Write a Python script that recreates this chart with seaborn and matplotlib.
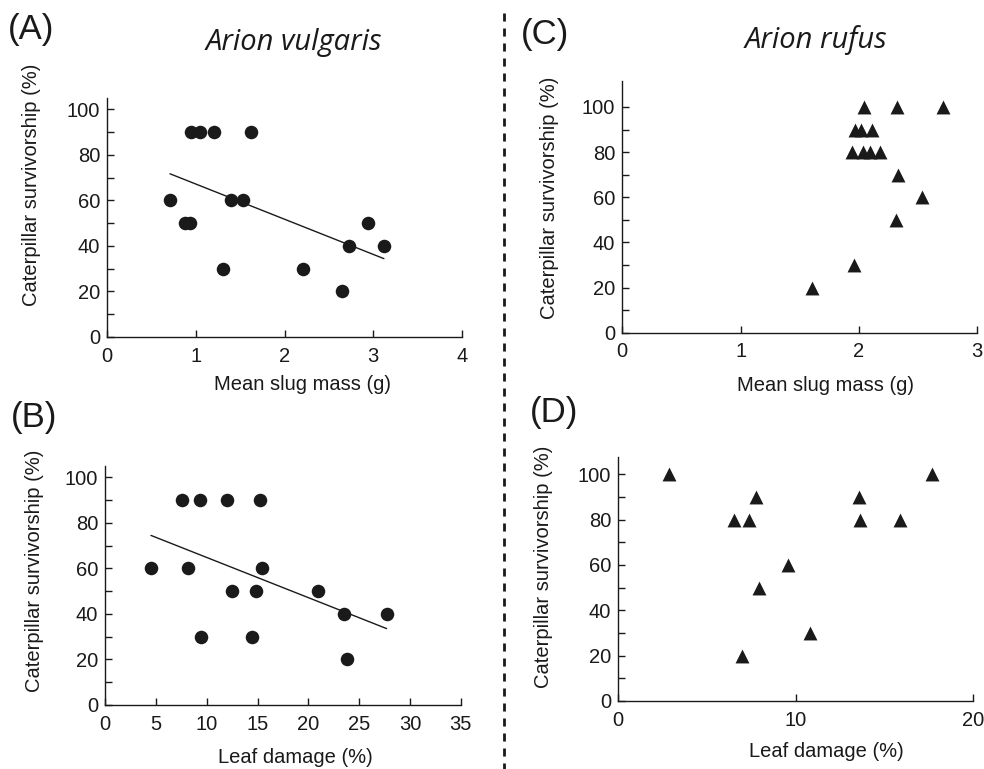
import numpy as np
import pandas as pd
import matplotlib
matplotlib.use("Agg")
import matplotlib.pyplot as plt
from matplotlib.lines import Line2D
import seaborn as sns

# === Data ===
# Arion vulgaris
av_mass = [0.71, 0.88, 0.93, 0.95, 1.05, 1.20, 1.31, 1.40, 1.53, 1.62, 2.21, 2.65, 2.73, 2.94, 3.12]
av_surv_mass = [60, 50, 50, 90, 90, 90, 30, 60, 60, 90, 30, 20, 40, 50, 40]
av_damage = [4.5, 7.6, 8.1, 9.3, 9.4, 11.95, 12.5, 14.45, 14.85, 15.2, 15.4, 20.9, 23.5, 23.8, 27.7]
av_surv_damage = [60, 90, 60, 90, 30, 90, 50, 30, 50, 90, 60, 50, 40, 20, 40]

# Arion rufus
ar_mass = [1.60, 1.96, 1.94, 1.97, 2.02, 2.03, 2.04, 2.09, 2.11, 2.18, 2.31, 2.32, 2.33, 2.53, 2.71]
ar_surv_mass = [20, 30, 80, 90, 90, 80, 100, 80, 90, 80, 50, 100, 70, 60, 100]
ar_damage = [2.86, 6.53, 7.0, 7.39, 7.77, 7.96, 9.6, 10.82, 13.58, 13.64, 15.9, 17.7]
ar_surv_damage = [100, 80, 20, 80, 90, 50, 60, 30, 90, 80, 80, 100]

YLABEL = "Caterpillar survivorship (%)"
MASS_LABEL = "Mean slug mass (g)"
DAMAGE_LABEL = "Leaf damage (%)"

# === Style ===
sns.set_style("ticks")
plt.rcParams['font.family'] = ['Liberation Sans', 'DejaVu Sans']
plt.rcParams['axes.linewidth'] = 1.0
INK = "#1a1a1a"


def style_axes(ax, xlim, xticks, ylim, xlab, ylab, xlab_pos, ylab_pos):
    ax.set_xlim(*xlim)
    ax.set_ylim(*ylim)
    ax.set_xticks(xticks)
    ax.set_yticks(range(0, 101, 20))
    ax.set_yticks(range(10, 100, 20), minor=True)
    ax.tick_params(which='both', direction='in', length=5, width=1.0, color=INK)
    ax.tick_params(axis='x', which='major', pad=7, labelsize=14.5, labelcolor=INK)
    ax.tick_params(axis='y', which='major', pad=5, labelsize=14.5, labelcolor=INK)
    for s in ['left', 'bottom']:
        ax.spines[s].set_color(INK)
    sns.despine(ax=ax)
    ax.set_xlabel(xlab, fontsize=14.5, color=INK)
    ax.set_ylabel(ylab, fontsize=14.5, color=INK)
    ax.xaxis.set_label_coords(*xlab_pos)
    ax.yaxis.set_label_coords(*ylab_pos)
    ax.xaxis.label.set_va('center')
    ax.yaxis.label.set_va('center')


fig = plt.figure(figsize=(9.84, 7.69), dpi=100)
W, H = 984.0, 769.0


def axes_px(left, right, bottom, top):
    return fig.add_axes([left / W, 1 - bottom / H, (right - left) / W, (bottom - top) / H])


# (A) A. vulgaris vs slug mass
axA = axes_px(107, 462, 337, 98)
dfA = pd.DataFrame({"x": av_mass, "y": av_surv_mass})
sns.scatterplot(data=dfA, x="x", y="y", ax=axA, color=INK, s=95, linewidth=0, marker='o', zorder=3)
sns.regplot(data=dfA, x="x", y="y", ax=axA, scatter=False, ci=None, truncate=True,
            line_kws={"color": INK, "lw": 1.0})
style_axes(axA, (0, 4), range(0, 5), (0, 105), MASS_LABEL, YLABEL, (0.552, -0.197), (-0.214, 0.636))

# (B) A. vulgaris vs leaf damage
axB = axes_px(105.3, 460.7, 705, 466)
dfB = pd.DataFrame({"x": av_damage, "y": av_surv_damage})
sns.scatterplot(data=dfB, x="x", y="y", ax=axB, color=INK, s=95, linewidth=0, marker='o', zorder=3)
sns.regplot(data=dfB, x="x", y="y", ax=axB, scatter=False, ci=None, truncate=True,
            line_kws={"color": INK, "lw": 1.0})
style_axes(axB, (0, 35), range(0, 36, 5), (0, 105), DAMAGE_LABEL, YLABEL, (0.534, -0.218), (-0.198, 0.561))

# (C) A. rufus vs slug mass
axC = axes_px(622.3, 977.3, 332.7, 81)
dfC = pd.DataFrame({"x": ar_mass, "y": ar_surv_mass})
sns.scatterplot(data=dfC, x="x", y="y", ax=axC, color=INK, s=100, linewidth=0, marker='^', zorder=3)
style_axes(axC, (0, 3), range(0, 4), (0, 111.5), MASS_LABEL, YLABEL, (0.571, -0.208), (-0.204, 0.535))

# (D) A. rufus vs leaf damage
axD = axes_px(618.3, 972.7, 701, 457.3)
dfD = pd.DataFrame({"x": ar_damage, "y": ar_surv_damage})
sns.scatterplot(data=dfD, x="x", y="y", ax=axD, color=INK, s=100, linewidth=0, marker='^', zorder=3)
style_axes(axD, (0, 20), range(0, 21, 10), (0, 107.5), DAMAGE_LABEL, YLABEL, (0.588, -0.207), (-0.21, 0.552))

for ax in [axA, axB, axC, axD]:
    ax.set_clip_on(False)
    for c in ax.collections:
        c.set_clip_on(False)

# panel letters and species titles
for lab, x, y in [("(A)", 8, 39.5), ("(B)", 11, 426.7), ("(C)", 521, 44), ("(D)", 530, 421.7)]:
    fig.text(x / W, 1 - y / H, lab, fontsize=25, color=INK, ha='left', va='baseline')

fig.text(294 / W, 1 - 50 / H, "Arion vulgaris", fontsize=21, style='italic',
         family=['Open Sans', 'DejaVu Sans'], color=INK, ha='center', va='baseline')
fig.text(816 / W, 1 - 48 / H, "Arion rufus", fontsize=21, style='italic',
         family=['Open Sans', 'DejaVu Sans'], color=INK, ha='center', va='baseline')

# dashed divider between species
fig.add_artist(Line2D([504 / W, 504 / W], [1 - 13 / H, 0], transform=fig.transFigure,
                      color=INK, lw=2.0, linestyle=(0, (2.9, 2.5))))

fig.savefig("out.png", dpi=100)
